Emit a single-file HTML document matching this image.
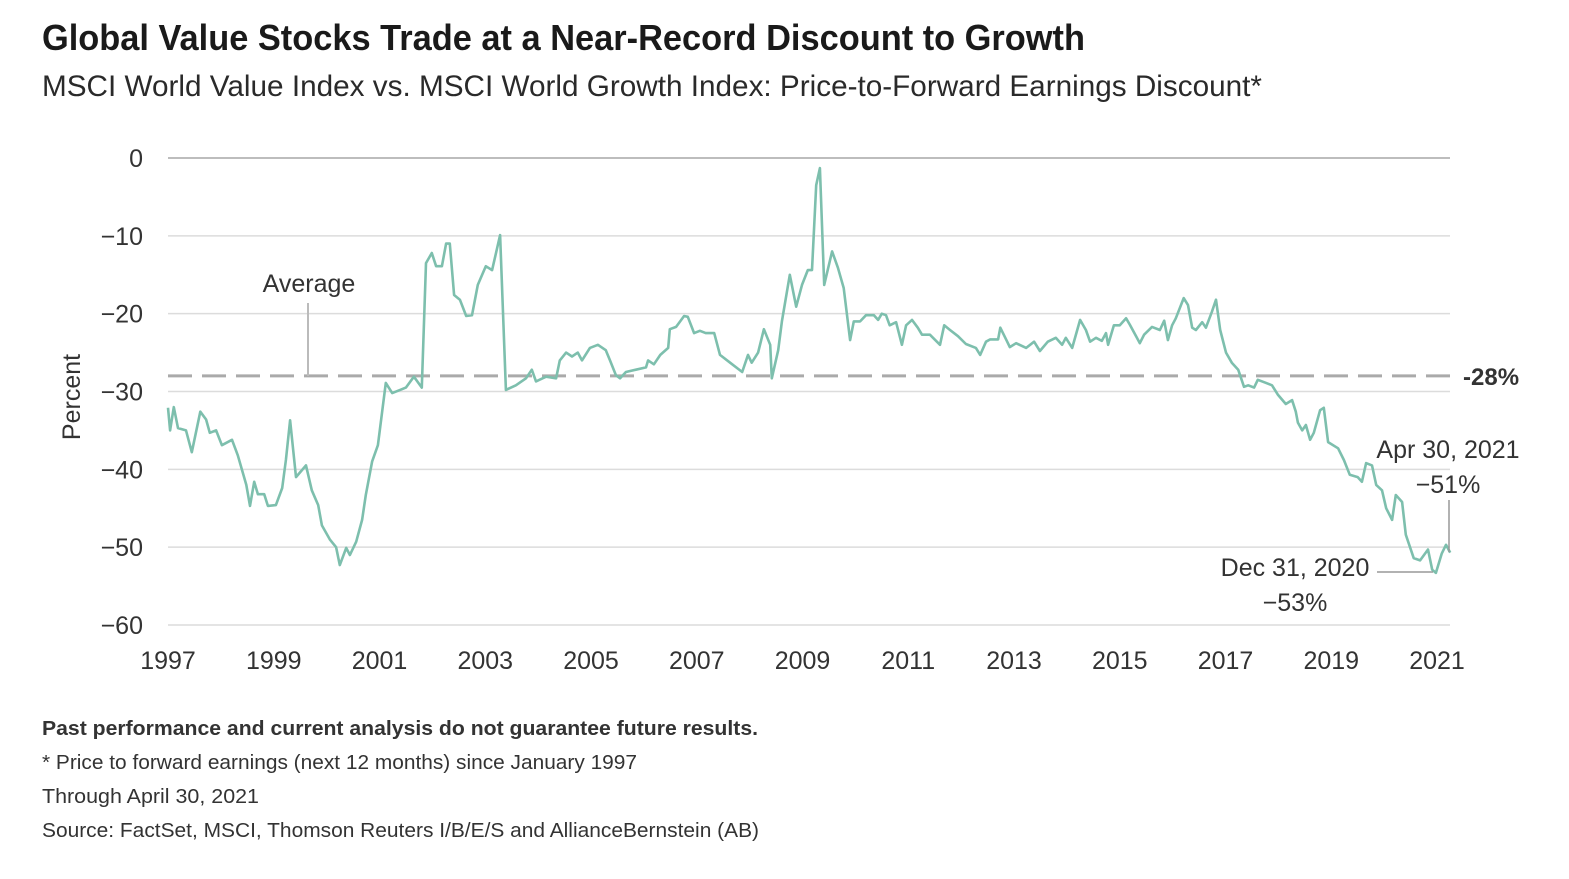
<!DOCTYPE html>
<html><head><meta charset="utf-8"><style>
html,body{margin:0;padding:0;background:#fff;width:1569px;height:879px;overflow:hidden}
svg text{font-family:"Liberation Sans Narrow","Liberation Sans",sans-serif}
</style></head><body>
<svg id="chart" width="1569" height="879" viewBox="0 0 1569 879" xmlns="http://www.w3.org/2000/svg">
<text x="42" y="50" font-size="36" font-weight="bold" fill="#1a1a1a" textLength="1043" lengthAdjust="spacingAndGlyphs">Global Value Stocks Trade at a Near-Record Discount to Growth</text>
<text x="42" y="96" font-size="30" fill="#2a2a2a" textLength="1220" lengthAdjust="spacingAndGlyphs">MSCI World Value Index vs. MSCI World Growth Index: Price-to-Forward Earnings Discount*</text>
<g id="grid"></g>
<g id="yticks"></g>
<g id="xticks"></g>
<text transform="translate(80,397) rotate(-90)" text-anchor="middle" font-size="25" fill="#333">Percent</text>
<line id="avg" x1="168" x2="1450" stroke="#aaa" stroke-width="3" stroke-dasharray="24,10"/>
<text x="309" y="292" text-anchor="middle" font-size="25" fill="#333">Average</text>
<line id="avgLeader" x1="308" x2="308" y1="303" stroke="#bbb" stroke-width="2"/>
<text id="avgLbl" x="1463" font-size="24" font-weight="bold" fill="#333">-28%</text>
<polyline id="series" fill="none" stroke="#7dbfad" stroke-width="2.6" stroke-linejoin="round"/>
<text x="1448" y="458" text-anchor="middle" font-size="25" fill="#333">Apr 30, 2021</text>
<text x="1448" y="493" text-anchor="middle" font-size="25" fill="#333">−51%</text>
<line x1="1449" x2="1449" y1="500" y2="552" stroke="#999" stroke-width="1.5"/>
<text x="1295" y="576" text-anchor="middle" font-size="25" fill="#333">Dec 31, 2020</text>
<text x="1295" y="611" text-anchor="middle" font-size="25" fill="#333">−53%</text>
<line x1="1377" x2="1433" y1="572" y2="572" stroke="#999" stroke-width="1.5"/>
<text x="42" y="735" font-size="20" font-weight="bold" fill="#333" font-family="Liberation Sans" textLength="716" lengthAdjust="spacingAndGlyphs">Past performance and current analysis do not guarantee future results.</text>
<text x="42" y="769" font-size="20" fill="#333" textLength="595" lengthAdjust="spacingAndGlyphs">* Price to forward earnings (next 12 months) since January 1997</text>
<text x="42" y="803" font-size="20" fill="#333" textLength="217" lengthAdjust="spacingAndGlyphs">Through April 30, 2021</text>
<text x="42" y="837" font-size="20" fill="#333" textLength="717" lengthAdjust="spacingAndGlyphs">Source: FactSet, MSCI, Thomson Reuters I/B/E/S and AllianceBernstein (AB)</text>
</svg>
<script>
const yTicks=[0,-10,-20,-30,-40,-50,-60];
const xTickLabels=[1997,1999,2001,2003,2005,2007,2009,2011,2013,2015,2017,2019,2021];
const averageValue=-28;
const yearsSince1997=[0,.04,.11,.19,.34,.45,.61,.72,.79,.91,1.02,1.21,1.32,1.48,1.55,1.63,1.70,1.82,1.89,2.04,2.16,2.23,2.31,2.42,2.61,2.72,2.84,2.91,3.06,3.18,3.25,3.37,3.44,3.56,3.67,3.74,3.86,3.97,4.12,4.24,4.39,4.50,4.65,4.80,4.88,4.99,5.07,5.18,5.26,5.33,5.41,5.52,5.64,5.75,5.86,6.01,6.13,6.28,6.39,6.58,6.77,6.88,6.96,7.15,7.34,7.41,7.53,7.64,7.75,7.83,7.98,8.13,8.28,8.36,8.47,8.55,8.66,8.85,9.04,9.08,9.19,9.31,9.46,9.49,9.61,9.76,9.83,9.95,10.06,10.17,10.33,10.44,10.63,10.86,10.97,11.04,11.16,11.27,11.39,11.42,11.54,11.61,11.76,11.88,11.99,12.10,12.18,12.26,12.33,12.41,12.56,12.67,12.78,12.90,12.97,13.09,13.20,13.35,13.43,13.50,13.58,13.65,13.77,13.88,13.96,14.07,14.18,14.26,14.41,14.60,14.68,14.79,14.94,15.09,15.28,15.36,15.47,15.55,15.70,15.74,15.85,15.92,16.04,16.23,16.38,16.49,16.64,16.79,16.91,16.98,17.10,17.25,17.36,17.44,17.55,17.66,17.74,17.78,17.89,18.00,18.12,18.19,18.31,18.38,18.46,18.61,18.76,18.84,18.91,18.99,19.06,19.21,19.29,19.37,19.44,19.56,19.63,19.74,19.82,19.90,20.01,20.12,20.24,20.35,20.43,20.54,20.61,20.73,20.88,20.99,21.14,21.26,21.33,21.37,21.45,21.52,21.60,21.67,21.79,21.86,21.94,22.13,22.24,22.35,22.50,22.58,22.66,22.77,22.85,22.96,23.04,23.15,23.22,23.34,23.41,23.56,23.68,23.83,23.91,23.98,24.09,24.17,24.25];
const discountValues=[-32.1,-35,-32,-34.7,-35,-37.8,-32.6,-33.6,-35.3,-35,-36.9,-36.2,-38.2,-42,-44.7,-41.6,-43.2,-43.2,-44.7,-44.6,-42.4,-38.8,-33.7,-41,-39.5,-42.7,-44.6,-47.2,-49,-50,-52.3,-50.1,-51,-49.3,-46.5,-43.3,-39,-36.9,-28.9,-30.2,-29.8,-29.5,-28.1,-29.5,-13.5,-12.2,-13.9,-13.9,-11,-11,-17.6,-18.2,-20.3,-20.2,-16.3,-13.9,-14.4,-9.9,-29.8,-29.2,-28.3,-27.2,-28.7,-28.1,-28.3,-26,-25,-25.5,-25,-26,-24.4,-24,-24.7,-26,-27.9,-28.3,-27.5,-27.2,-26.9,-26,-26.5,-25.3,-24.4,-22,-21.7,-20.3,-20.4,-22.5,-22.2,-22.5,-22.5,-25.3,-26.3,-27.5,-25.3,-26.3,-25,-22,-24,-28.3,-24.7,-21,-15,-19.1,-16.3,-14.4,-14.4,-3.5,-1.3,-16.3,-12,-14.1,-16.7,-23.4,-21,-21,-20.2,-20.2,-20.8,-20,-20.2,-21.5,-21.1,-24,-21.5,-20.8,-21.8,-22.7,-22.7,-24,-21.5,-22.1,-22.9,-23.9,-24.4,-25.3,-23.6,-23.3,-23.3,-21.8,-23.3,-24.3,-23.8,-24.4,-23.6,-24.8,-23.6,-23.1,-24,-23.1,-24.4,-20.8,-22.1,-23.6,-23.1,-23.5,-22.5,-24,-21.5,-21.5,-20.6,-21.4,-22.9,-23.8,-22.7,-21.7,-22.1,-20.9,-23.4,-21.5,-20.6,-18,-18.9,-21.8,-22.1,-21.1,-21.8,-19.8,-18.2,-22.1,-25,-26.3,-27.2,-29.4,-29.2,-29.5,-28.5,-28.8,-29.2,-30.4,-31.6,-31.1,-32.6,-34,-35,-34.3,-36.2,-35.3,-32.4,-32.1,-36.5,-37.3,-38.8,-40.7,-41,-41.6,-39.2,-39.5,-42,-42.7,-45,-46.5,-43.3,-44.2,-48.4,-51.4,-51.7,-50.3,-52.9,-53.3,-50.8,-49.7,-50.7];

const X0=168,X1=1437,Y0=158,Y60=625;
function xScale(yr){return X0+(yr-1997)*(X1-X0)/24;}
function yScale(v){return Y0+(-v)*(Y60-Y0)/60;}
const NS="http://www.w3.org/2000/svg";
const grid=document.getElementById('grid'),yt=document.getElementById('yticks'),xt=document.getElementById('xticks');
yTicks.forEach(v=>{
  const l=document.createElementNS(NS,'line');
  
  
  l.setAttribute('x1',168);l.setAttribute('x2',1450);
  l.setAttribute('y1',yScale(v));l.setAttribute('y2',yScale(v));
  l.setAttribute('stroke',v===0?'#bdbdbd':'#dcdcdc');l.setAttribute('stroke-width',v===0?2:1.5);
  grid.appendChild(l);
  const t=document.createElementNS(NS,'text');
  
  
  t.setAttribute('x',143);t.setAttribute('y',yScale(v)+9);
  t.setAttribute('text-anchor','end');t.setAttribute('font-size','25');t.setAttribute('fill','#333');
  t.textContent=v===0?'0':'−'+(-v);
  yt.appendChild(t);
});
xTickLabels.forEach(y=>{
  const t=document.createElementNS(NS,'text');
  
  
  t.setAttribute('x',xScale(y));t.setAttribute('y',669);
  t.setAttribute('text-anchor','middle');t.setAttribute('font-size','25');t.setAttribute('fill','#333');
  t.textContent=y;
  xt.appendChild(t);
});
const ay=yScale(averageValue);
const avg=document.getElementById('avg');avg.setAttribute('y1',ay);avg.setAttribute('y2',ay);
document.getElementById('avgLeader').setAttribute('y2',ay);
document.getElementById('avgLbl').setAttribute('y',ay+9);
document.getElementById('series').setAttribute('points',yearsSince1997.map((o,i)=>xScale(1997+o).toFixed(1)+','+yScale(discountValues[i]).toFixed(1)).join(' '));
</script>
</body></html>
